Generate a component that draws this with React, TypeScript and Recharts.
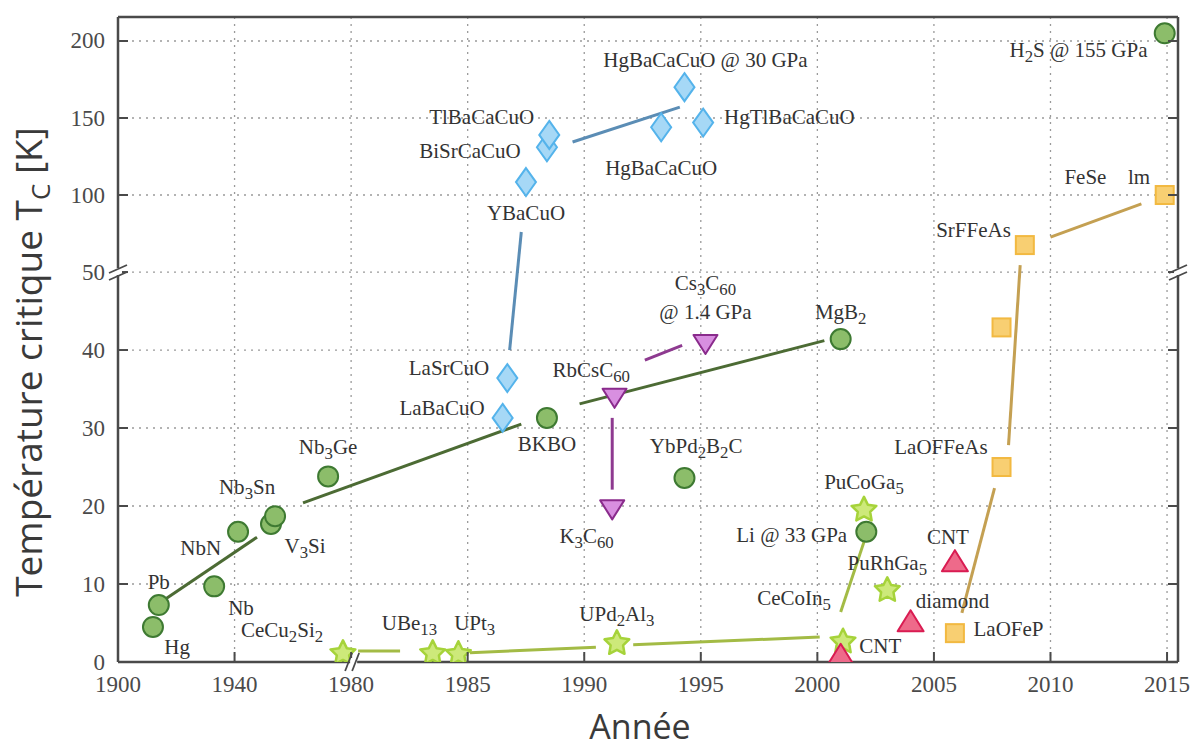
import { ComposedChart, Scatter, Line, XAxis, YAxis, CartesianGrid } from 'recharts'

// the axes are broken: years before 1980 and temperatures above 50 K are squeezed
const X_BREAK = 1980
const X_SQUEEZE = 0.125
const Y_BREAK = 50
const Y_SQUEEZE = 0.1975

const toX = (year: number) => (year < X_BREAK ? X_BREAK - (X_BREAK - year) * X_SQUEEZE : year)
const fromX = (v: number) => (v < X_BREAK ? X_BREAK - (X_BREAK - v) / X_SQUEEZE : v)
const toY = (tc: number) => (tc > Y_BREAK ? Y_BREAK + (tc - Y_BREAK) * Y_SQUEEZE : tc)
const fromY = (v: number) => (v > Y_BREAK ? Y_BREAK + (v - Y_BREAK) / Y_SQUEEZE : v)

const yearTicks = [1900, 1940, 1980, 1985, 1990, 1995, 2000, 2005, 2010, 2015]
const tcTicks = [0, 10, 20, 30, 40, 50, 100, 150, 200]

// materials: year, Tc [K]
const conventional = [
  { name: 'Hg', year: 1912.0, tc: 4.5 },
  { name: 'Pb', year: 1914.0, tc: 7.3 },
  { name: 'Nb', year: 1933.0, tc: 9.7 },
  { name: 'NbN', year: 1941.2, tc: 16.7 },
  { name: 'V3Si', year: 1952.5, tc: 17.7 },
  { name: 'Nb3Sn', year: 1953.9, tc: 18.7 },
  { name: 'Nb3Ge', year: 1972.1, tc: 23.8 },
  { name: 'BKBO', year: 1988.4, tc: 31.3 },
  { name: 'YbPd2B2C', year: 1994.3, tc: 23.6 },
  { name: 'MgB2', year: 2001.0, tc: 41.4 },
  { name: 'Li', year: 2002.1, tc: 16.7 },
  { name: 'H2S', year: 2014.9, tc: 205 },
]

const cuprates = [
  { name: 'LaBaCuO', year: 1986.5, tc: 31.3 },
  { name: 'LaSrCuO', year: 1986.7, tc: 36.4 },
  { name: 'YBaCuO', year: 1987.5, tc: 108.4 },
  { name: 'BiSrCaCuO', year: 1988.4, tc: 131 },
  { name: 'TlBaCaCuO', year: 1988.5, tc: 139 },
  { name: 'HgBaCaCuO', year: 1993.3, tc: 144 },
  { name: 'HgBaCaCuO 30GPa', year: 1994.3, tc: 170 },
  { name: 'HgTlBaCaCuO', year: 1995.1, tc: 147 },
]

const fullerides = [
  { name: 'RbCsC60', year: 1991.3, tc: 34.0 },
  { name: 'K3C60', year: 1991.2, tc: 19.7 },
  { name: 'Cs3C60', year: 1995.2, tc: 40.9 },
]

const heavyFermions = [
  { name: 'CeCu2Si2', year: 1977.2, tc: 1.1 },
  { name: 'UBe13', year: 1983.5, tc: 1.1 },
  { name: 'UPt3', year: 1984.6, tc: 1.0 },
  { name: 'UPd2Al3', year: 1991.4, tc: 2.4 },
  { name: 'CeCoIn5', year: 2001.1, tc: 2.6 },
  { name: 'PuCoGa5', year: 2002.0, tc: 19.5 },
  { name: 'PuRhGa5', year: 2003.0, tc: 9.2 },
]

const carbon = [
  { name: 'CNT', year: 2001.0, tc: 0.8 },
  { name: 'diamond', year: 2004.0, tc: 5.1 },
  { name: 'CNT', year: 2005.9, tc: 12.8 },
]

const ironBased = [
  { name: 'LaOFeP', year: 2005.9, tc: 3.7 },
  { name: 'LaOFFeAs', year: 2007.9, tc: 25.0 },
  { name: '', year: 2007.9, tc: 42.9 },
  { name: 'SrFFeAs', year: 2008.9, tc: 67.5 },
  { name: 'FeSe', year: 2014.9, tc: 100 },
]

// trend segments [start, end] as (year, Tc)
const conventionalTrend = [
  [[1914.4, 7.6], [1947.7, 16.0]],
  [[1963.5, 20.4], [1987.3, 30.5]],
  [[1989.8, 33.1], [2000.3, 41.2]],
]
const cuprateTrend = [
  [[1986.8, 40.0], [1987.3, 76.0]],
  [[1989.5, 134.4], [1994.1, 157.1]],
]
const fullerideTrend = [
  [[1991.2, 31.3], [1991.2, 22.1]],
  [[1992.6, 38.7], [1994.2, 40.6]],
]
const heavyFermionTrend = [
  [[1980.3, 1.4], [1982.1, 1.4]],
  [[1985.1, 1.2], [1990.5, 1.9]],
  [[1992.1, 2.2], [2000.1, 3.2]],
  [[2001.0, 6.4], [2002.1, 16.3]],
]
const ironTrend = [
  [[2006.2, 6.3], [2007.6, 22.3]],
  [[2008.2, 27.8], [2008.7, 54.5]],
  [[2010.0, 72.7], [2013.9, 94.2]],
]

// annotations, _x or _{xy} marks a subscript
const labels = [
  { text: 'Hg', year: 1920.3, tc: 1.9 },
  { text: 'Pb', year: 1914.0, tc: 10.3 },
  { text: 'Nb', year: 1942.2, tc: 6.9 },
  { text: 'NbN', year: 1928.4, tc: 14.6 },
  { text: 'V_3Si', year: 1964.2, tc: 14.9 },
  { text: 'Nb_3Sn', year: 1944.3, tc: 22.4 },
  { text: 'Nb_3Ge', year: 1972.1, tc: 27.6 },
  { text: 'CeCu_2Si_2', year: 1956.3, tc: 4.1 },
  { text: 'UBe_{13}', year: 1982.5, tc: 5.0 },
  { text: 'UPt_3', year: 1985.3, tc: 5.0 },
  { text: 'UPd_2Al_3', year: 1991.4, tc: 6.2 },
  { text: 'LaBaCuO', year: 1983.9, tc: 32.6 },
  { text: 'LaSrCuO', year: 1984.2, tc: 37.7 },
  { text: 'BKBO', year: 1988.4, tc: 27.9 },
  { text: 'RbCsC_{60}', year: 1990.3, tc: 37.4 },
  { text: 'Cs_3C_{60}', year: 1995.2, tc: 48.6 },
  { text: '@ 1.4 GPa', year: 1995.2, tc: 44.9 },
  { text: 'YbPd_2B_2C', year: 1994.8, tc: 27.7 },
  { text: 'K_3C_{60}', year: 1990.1, tc: 16.2 },
  { text: 'MgB_2', year: 2001.0, tc: 44.9 },
  { text: 'PuCoGa_5', year: 2002.0, tc: 23.1 },
  { text: 'Li @ 33 GPa', year: 1998.9, tc: 16.3 },
  { text: 'PuRhGa_5', year: 2003.0, tc: 12.7 },
  { text: 'CeCoIn_5', year: 1999.0, tc: 8.2 },
  { text: 'CNT', year: 2002.7, tc: 2.1 },
  { text: 'diamond', year: 2005.8, tc: 7.8 },
  { text: 'CNT', year: 2005.6, tc: 16.0 },
  { text: 'LaOFeP', year: 2008.2, tc: 4.2 },
  { text: 'LaOFFeAs', year: 2005.3, tc: 27.6 },
  { text: 'SrFFeAs', year: 2006.7, tc: 77.3 },
  { text: 'FeSe', year: 2011.5, tc: 111.7 },
  { text: 'lm', year: 2013.8, tc: 111.7 },
  { text: 'H_2S @ 155 GPa', year: 2011.2, tc: 194.2 },
  { text: 'HgBaCaCuO @ 30 GPa', year: 1995.2, tc: 187.7 },
  { text: 'HgTlBaCaCuO', year: 1998.8, tc: 150.6 },
  { text: 'TlBaCaCuO', year: 1985.6, tc: 150.6 },
  { text: 'BiSrCaCuO', year: 1985.1, tc: 128.6 },
  { text: 'HgBaCaCuO', year: 1993.3, tc: 117.5 },
  { text: 'YBaCuO', year: 1987.5, tc: 88.3 },
]

const AXIS = '#4a4a4a'
const SERIF = '"Liberation Serif", "Times New Roman", serif'
const SANS = '"Open Sans", sans-serif'

const pts = (arr: any[]) => arr.map((d) => ({ ...d, x: toX(d.year), y: toY(d.tc) }))
const seg = (s: number[][]) => s.map(([year, tc]) => ({ x: toX(year), y: toY(tc) }))

function rich(text: string) {
  const out: any[] = []
  const re = /_\{([^}]*)\}|_(.)/g
  let last = 0
  let low = false
  let k = 0
  let m: RegExpExecArray | null
  while ((m = re.exec(text))) {
    if (m.index > last) {
      out.push(<tspan key={k++} dy={low ? -6 : 0}>{text.slice(last, m.index)}</tspan>)
      low = false
    }
    out.push(
      <tspan key={k++} dy={low ? 0 : 6} fontSize="0.8em">
        {m[1] ?? m[2]}
      </tspan>
    )
    low = true
    last = re.lastIndex
  }
  if (last < text.length) out.push(<tspan key={k++} dy={low ? -6 : 0}>{text.slice(last)}</tspan>)
  return out
}

const circle = (p: any) => (
  <circle cx={p.cx} cy={p.cy} r={10} fill="#8cbd6a" stroke="#3e7a32" strokeWidth={2} />
)
const diamond = (p: any) => (
  <polygon
    points={`${p.cx},${p.cy - 14} ${p.cx + 10},${p.cy} ${p.cx},${p.cy + 14} ${p.cx - 10},${p.cy}`}
    fill="#a6d8f6"
    stroke="#54b3eb"
    strokeWidth={2}
  />
)
const triDown = (p: any) => (
  <polygon
    points={`${p.cx - 12},${p.cy - 8} ${p.cx + 12},${p.cy - 8} ${p.cx},${p.cy + 11}`}
    fill="#d88fe0"
    stroke="#8a2b8c"
    strokeWidth={2}
    strokeLinejoin="round"
  />
)
const triUp = (p: any) => (
  <polygon
    points={`${p.cx - 13},${p.cy + 9} ${p.cx + 13},${p.cy + 9} ${p.cx},${p.cy - 12}`}
    fill="#ee6a8a"
    stroke="#d91c52"
    strokeWidth={2}
    strokeLinejoin="round"
  />
)
const square = (p: any) => (
  <rect x={p.cx - 9} y={p.cy - 9} width={18} height={18} fill="#f8cf72" stroke="#f2b941" strokeWidth={2} />
)
const star = (p: any) => {
  const pp: string[] = []
  for (let i = 0; i < 10; i++) {
    const r = i % 2 ? 6.5 : 13
    const a = -Math.PI / 2 + (i * Math.PI) / 5
    pp.push(`${p.cx + r * Math.cos(a)},${p.cy + r * Math.sin(a)}`)
  }
  return <polygon points={pp.join(' ')} fill="#cde97a" stroke="#a6d33a" strokeWidth={2.5} strokeLinejoin="round" />
}
const labelShape = (p: any) => {
  const text = p.payload?.text ?? p.text
  return (
    <text x={p.cx} y={p.cy} textAnchor="middle" dominantBaseline="central" fontFamily={SERIF} fontSize={21} fill="#333">
      {rich(text)}
    </text>
  )
}

const near = (a: number, b: number) => Math.abs(a - b) < 1e-6

function BreakH({ x, y }: { x: number; y: number }) {
  return (
    <g>
      <rect x={x - 4} y={y - 4} width={7} height={8} fill="#fff" />
      <line x1={x - 9} y1={y + 9} x2={x - 2} y2={y - 9} stroke={AXIS} strokeWidth={1.8} />
      <line x1={x - 2} y1={y + 9} x2={x + 5} y2={y - 9} stroke={AXIS} strokeWidth={1.8} />
    </g>
  )
}
function BreakV({ x, y }: { x: number; y: number }) {
  return (
    <g>
      <rect x={x - 4} y={y - 4} width={8} height={7} fill="#fff" />
      <line x1={x - 9} y1={y + 1} x2={x + 9} y2={y - 7} stroke={AXIS} strokeWidth={1.8} />
      <line x1={x - 9} y1={y + 8} x2={x + 9} y2={y} stroke={AXIS} strokeWidth={1.8} />
    </g>
  )
}

function BottomTick({ x, y, payload }: any) {
  return (
    <g>
      <line x1={x} y1={y} x2={x} y2={y - 10} stroke={AXIS} strokeWidth={2} />
      {near(payload.value, X_BREAK) && <BreakH x={x + 3} y={y} />}
      <text x={x} y={y + 30} textAnchor="middle" fontFamily={SERIF} fontSize={23} fill="#4a4a4a">
        {Math.round(fromX(payload.value))}
      </text>
    </g>
  )
}
function TopTick({ x, y, payload }: any) {
  return (
    <g>
      <line x1={x} y1={y} x2={x} y2={y + 10} stroke={AXIS} strokeWidth={2} />
      {near(payload.value, X_BREAK) && <BreakH x={x} y={y} />}
    </g>
  )
}
function LeftTick({ x, y, payload }: any) {
  return (
    <g>
      <line x1={x} y1={y} x2={x + 10} y2={y} stroke={AXIS} strokeWidth={2} />
      {near(payload.value, Y_BREAK) && <BreakV x={x} y={y} />}
      <text x={x - 13} y={y} textAnchor="end" dominantBaseline="central" fontFamily={SERIF} fontSize={23} fill="#4a4a4a">
        {Math.round(fromY(payload.value))}
      </text>
    </g>
  )
}
function RightTick({ x, y, payload }: any) {
  return (
    <g>
      <line x1={x} y1={y} x2={x - 10} y2={y} stroke={AXIS} strokeWidth={2} />
      {near(payload.value, Y_BREAK) && <BreakV x={x} y={y} />}
    </g>
  )
}

const yTitle = () => (
  <text transform="translate(42, 362) rotate(-90)" textAnchor="middle" fontFamily={SANS} fontSize={37} fill="#3a3a3a">
    Température critique T
    <tspan dy={8} fontSize={26}>C</tspan>
    <tspan dy={-8}> [K]</tspan>
  </text>
)
const xTitle = () => (
  <text x={640} y={739} textAnchor="middle" fontFamily={SANS} fontSize={34} fill="#3a3a3a">
    Année
  </text>
)

const xDomain = [toX(1900), 2015.47]
const yDomain = [0, 82.7]
const xTickVals = yearTicks.map(toX)
const yTickVals = tcTicks.map(toY)

const series = [
  { data: conventional, shape: circle },
  { data: cuprates, shape: diamond },
  { data: fullerides, shape: triDown },
  { data: heavyFermions, shape: star },
  { data: carbon, shape: triUp },
  { data: ironBased, shape: square },
]
const trends = [
  { segs: conventionalTrend, color: '#4c6b34' },
  { segs: cuprateTrend, color: '#5b8db5' },
  { segs: fullerideTrend, color: '#8e3a90' },
  { segs: heavyFermionTrend, color: '#a3bb45' },
  { segs: ironTrend, color: '#c4a052' },
]

export default function App() {
  return (
    <div style={{ position: 'fixed', left: 0, top: 0, width: 1199, height: 749, background: '#fff' }}>
      <ComposedChart width={1199} height={749} margin={{ top: 0, right: 0, bottom: 0, left: 0 }}>
        <CartesianGrid stroke="#9a9a9a" strokeDasharray="2 5" strokeWidth={1.3} />
        <XAxis
          dataKey="x"
          type="number"
          domain={xDomain}
          ticks={xTickVals}
          interval={0}
          allowDataOverflow
          height={87}
          tickSize={0}
          tickMargin={0}
          tick={<BottomTick />}
          axisLine={{ stroke: AXIS, strokeWidth: 2.5 }}
          label={xTitle}
        />
        <XAxis
          xAxisId="top"
          orientation="top"
          type="number"
          domain={xDomain}
          ticks={xTickVals}
          interval={0}
          allowDataOverflow
          height={17}
          tickSize={0}
          tickMargin={0}
          tick={<TopTick />}
          axisLine={{ stroke: AXIS, strokeWidth: 2.5 }}
        />
        <YAxis
          dataKey="y"
          type="number"
          domain={yDomain}
          ticks={yTickVals}
          interval={0}
          allowDataOverflow
          width={118}
          tickSize={0}
          tickMargin={0}
          tick={<LeftTick />}
          axisLine={{ stroke: AXIS, strokeWidth: 2.5 }}
          label={yTitle}
        />
        <YAxis
          yAxisId="right"
          orientation="right"
          type="number"
          domain={yDomain}
          ticks={yTickVals}
          interval={0}
          allowDataOverflow
          width={21}
          tickSize={0}
          tickMargin={0}
          tick={<RightTick />}
          axisLine={{ stroke: AXIS, strokeWidth: 2.5 }}
        />
        {trends.flatMap((t, i) =>
          t.segs.map((s, j) => (
            <Line
              key={`t${i}-${j}`}
              data={seg(s)}
              dataKey="y"
              stroke={t.color}
              strokeWidth={3}
              dot={false}
              activeDot={false}
              isAnimationActive={false}
            />
          ))
        )}
        {series.map((s, i) => (
          <Scatter key={`s${i}`} data={pts(s.data)} shape={s.shape} isAnimationActive={false} />
        ))}
        <Scatter data={pts(labels)} shape={labelShape} isAnimationActive={false} />
      </ComposedChart>
    </div>
  )
}
